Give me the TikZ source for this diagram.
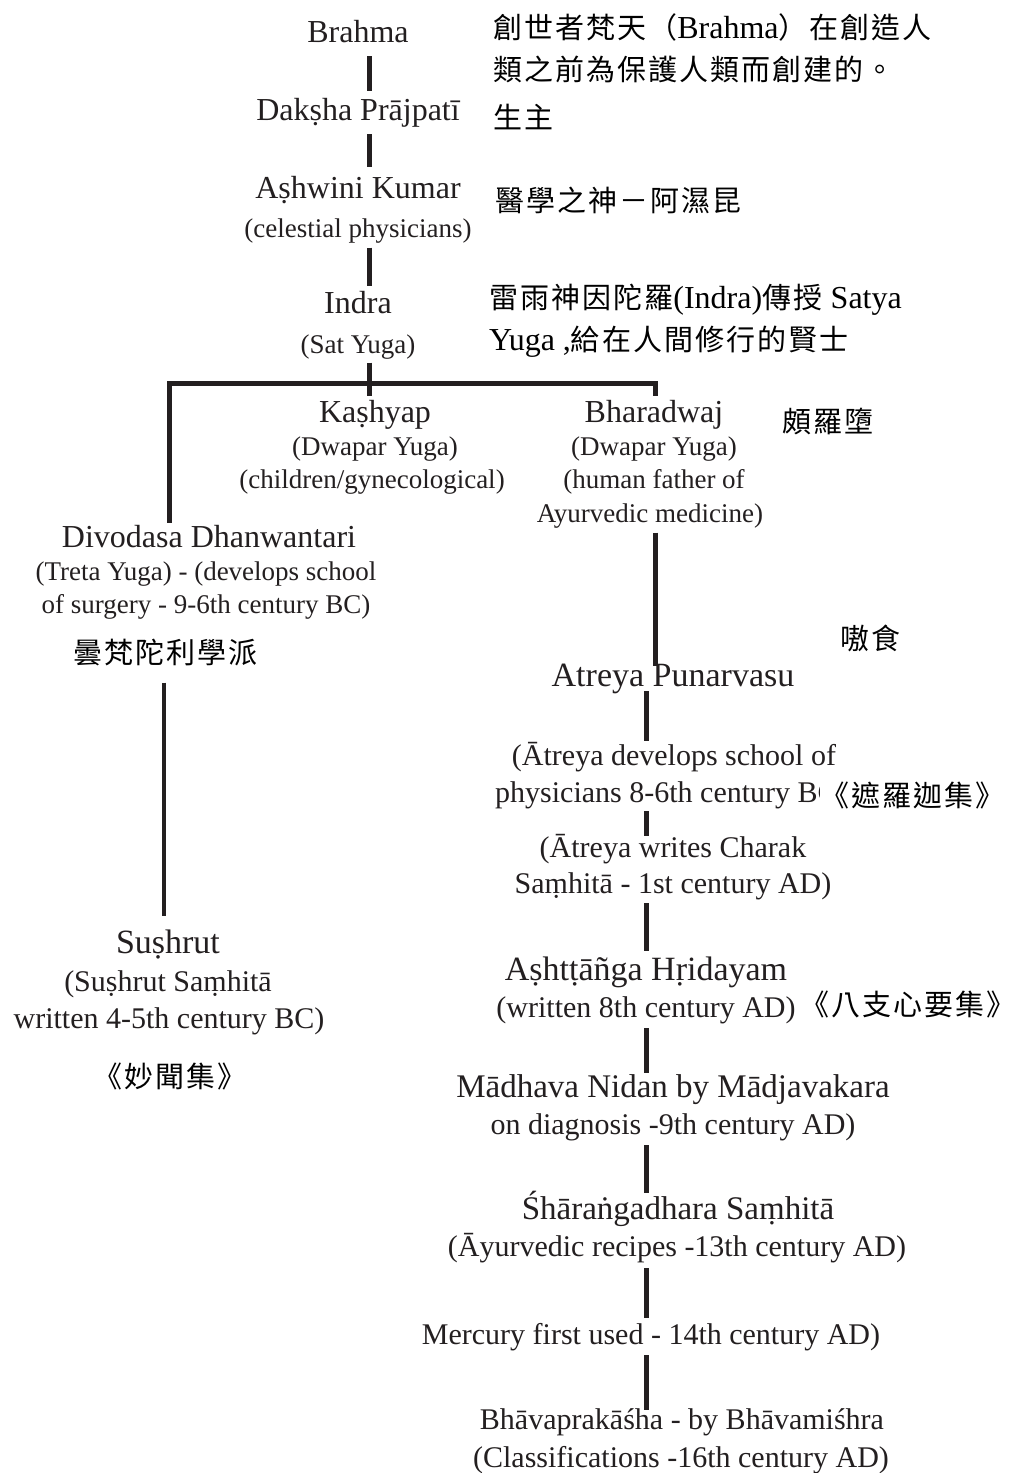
\documentclass[tikz,border=0pt]{standalone}
\usepackage{fontspec}
\usepackage{xcolor}
\setmainfont{Liberation Serif}
\newfontfamily\zhfont[LetterSpace=7]{Noto Sans CJK TC}
\usetikzlibrary{positioning,calc}
\definecolor{ink}{HTML}{231F20}
\newcommand{\romtxt}[1]{{\rmfamily\fontsize{32}{38}\selectfont #1}}

\tikzset{
    toptitle/.style={inner sep=0pt, text=ink, font=\fontsize{32}{38}\selectfont, text height=23pt, text depth=7pt},
    topsub/.style={inner sep=0pt, text=ink, font=\fontsize{27}{32}\selectfont, text height=19pt, text depth=6pt},
    lowtitle/.style={inner sep=0pt, text=ink, font=\fontsize{34}{40}\selectfont, text height=24pt, text depth=8pt},
    lowsub/.style={inner sep=0pt, text=ink, font=\fontsize{30}{36}\selectfont, text height=21pt, text depth=7pt},
    zhnote/.style={inner sep=0pt, anchor=west, text=black, font=\zhfont\fontsize{29}{34}\selectfont},
    link/.style={draw=ink, line width=5pt, shorten <=4pt, shorten >=4pt},
    thinlink/.style={link, line width=3.8pt},
}

\begin{document}
\begin{tikzpicture}[x=1pt,y=-1pt]
    \fill[white] (0,0) rectangle (1014,1473);
    \useasboundingbox (0,0) rectangle (1014,1473);

  \begin{scope}[yshift=-3pt]
    % columns of the connectors
    \coordinate (spine) at (369,0);
    \coordinate (lcol) at (169,0);
    \coordinate (rcol) at (655,0);
    \coordinate (lowcol) at (646,0);
    \coordinate (scol) at (164,0);
    \coordinate (bar) at (0,380);

    % main line
    \node[toptitle] (brahma) at (358,31) {Brahma};
    \node[toptitle] (daksha) at (358,109) {Dakṣha Prājpatī};
    \node[toptitle] (ashwini) at (358,187) {Aṣhwini Kumar};
    \node[topsub] (ashwinisub) at (358,228) {(celestial physicians)};
    \node[toptitle] (indra) at (358,302) {Indra};
    \node[topsub] (indrasub) at (358,344) {(Sat Yuga)};

    % the three branches
    \node[toptitle] (kashyap) at (375,411) {Kaṣhyap};
    \node[topsub] (kashyapsub) at (375,446) {(Dwapar Yuga)};
    \node[topsub] (kashyapsub2) at (372,479) {(children/gynecological)};
    \node[toptitle] (bharadwaj) at (654,411) {Bharadwaj};
    \node[topsub] (bharadwajsub) at (654,446) {(Dwapar Yuga)};
    \node[topsub] (bharadwajsub2) at (654,479) {(human father of};
    \node[topsub] (bharadwajsub3) at (650,513) {Ayurvedic medicine)};
    \node[toptitle] (divodasa) at (209,536) {Divodasa Dhanwantari};
    \node[topsub] (divodasasub) at (206,571) {(Treta Yuga) - (develops school};
    \node[topsub] (divodasasub2) at (206,604) {of surgery - 9-6th century BC)};

    % surgery school
    \node[lowtitle] (sushrut) at (168,942) {Suṣhrut};
    \node[lowsub] (sushrutsub) at (168,981) {(Suṣhrut Saṃhitā};
    \node[lowsub] (sushrutsub2) at (169,1018) {written 4-5th century BC)};

    % physicians school
    \node[lowtitle] (atreya) at (673,675) {Atreya Punarvasu};
    \node[lowsub] (atreyasub) at (674,755) {(Ātreya develops school of};
    \node[lowsub, anchor=west] (atreyasub2) at (495,792) {physicians 8-6th century BC)};
    \node[lowsub] (charak) at (673,847) {(Ātreya writes Charak};
    \node[lowsub] (charaksub) at (673,883) {Saṃhitā - 1st century AD)};
    \node[lowtitle] (ashtanga) at (646,969) {Aṣhtṭāñga Hṛidayam};
    \node[lowsub] (ashtangasub) at (646,1007) {(written 8th century AD)};
    \node[lowtitle, font=\fontsize{33}{40}\selectfont] (madhava) at (673,1086) {Mādhava Nidan by Mādjavakara};
    \node[lowsub] (madhavasub) at (673,1124) {on diagnosis -9th century AD)};
    \node[lowtitle, font=\fontsize{33}{40}\selectfont] (sharanga) at (678,1208) {Śhāraṅgadhara Saṃhitā};
    \node[lowsub] (sharangasub) at (677,1246) {(Āyurvedic recipes -13th century AD)};
    \node[lowsub] (mercury) at (651,1334) {Mercury first used - 14th century AD)};
    \node[lowsub] (bhava) at (682,1419) {Bhāvaprakāśha - by Bhāvamiśhra};
    \node[lowsub] (bhavasub) at (681,1457) {(Classifications -16th century AD)};

    % chinese notes
    \node[zhnote] (brahmazh) at (493,24) {創世者梵天（\romtxt{Brahma}）在創造人};
    \node[zhnote] (brahmazh2) at (493,66) {類之前為保護人類而創建的。};
    \node[zhnote] (dakshazh) at (493,114) {生主};
    \node[zhnote] (ashwinizh) at (495,197) {醫學之神－阿濕昆};
    \node[zhnote] (indrazh) at (489,297) {雷雨神因陀羅\romtxt{(Indra)}傳授 \romtxt{Satya}};
    \node[zhnote] (indrazh2) at (489,339) {\romtxt{Yuga ,}給在人間修行的賢士};
    \node[zhnote] (bharadwajzh) at (782,418) {頗羅墮};
    \node[zhnote] (atreyazh) at (840,635) {嗷食};
    \node[zhnote] (divodasazh) at (73,650) {曇梵陀利學派};
    \node[zhnote, fill=white] (charakzh) at (820,792) {《遮羅迦集》};
    \node[zhnote] (ashtangazh) at (800,1001) {《八支心要集》};
    \node[zhnote] (sushrutzh) at (93,1073) {《妙聞集》};

    % connectors
    \draw[link, shorten <=7pt, shorten >=6pt] (brahma.south -| spine) -- (daksha.north -| spine);
    \draw[link, shorten <=7pt, shorten >=8pt] (daksha.south -| spine) -- (ashwini.north -| spine);
    \draw[link] (ashwinisub.south -| spine) -- (indra.north -| spine);
    \draw[link, shorten <=3pt, shorten >=3pt] (indrasub.south -| spine) -- (kashyap.north -| spine);
    \draw[link, line join=miter, shorten <=1pt, shorten >=3pt] (divodasa.north -| lcol) -- (lcol |- bar) -- (rcol |- bar) -- (bharadwaj.north -| rcol);
    \draw[link, shorten >=-4pt] (bharadwajsub3.south -| rcol) -- (atreya.north -| rcol);
    \draw[link, shorten <=-3pt, shorten >=3pt] (atreya.south -| lowcol) -- (atreyasub.north -| lowcol);
    \draw[link, shorten <=2pt, shorten >=0pt] (atreyasub2.south -| lowcol) -- (charak.north -| lowcol);
    \draw[link, shorten <=3pt, shorten >=5pt] (charaksub.south -| lowcol) -- (ashtanga.north -| lowcol);
    \draw[link, shorten >=0pt] (ashtangasub.south -| lowcol) -- (madhava.north -| lowcol);
    \draw[link, shorten >=2pt] (madhavasub.south -| lowcol) -- (sharanga.north -| lowcol);
    \draw[link, shorten <=5pt, shorten >=5pt] (sharangasub.south -| lowcol) -- (mercury.north -| lowcol);
    \draw[link, shorten >=-2pt] (mercury.south -| lowcol) -- (bhava.north -| lowcol);
    \draw[thinlink, shorten <=63pt, shorten >=13pt] (divodasasub2.south -| scol) -- (sushrut.north -| scol);
  \end{scope}
\end{tikzpicture}
\end{document}
